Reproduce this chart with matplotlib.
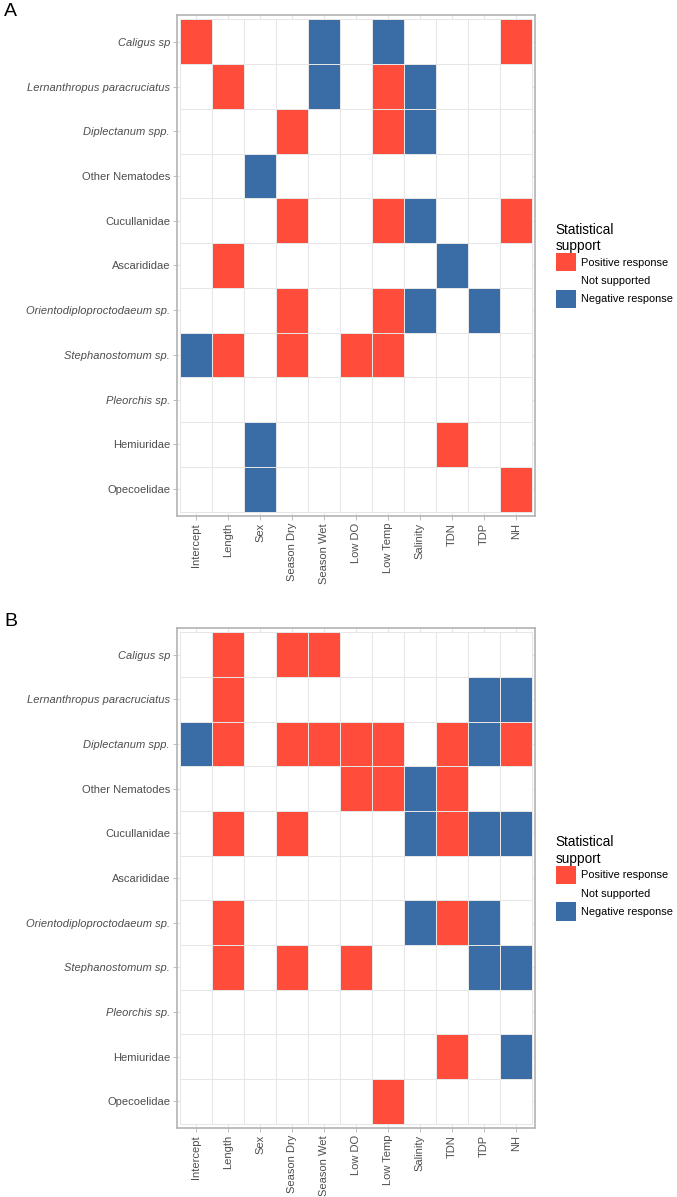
import numpy as np
import matplotlib
matplotlib.use("Agg")
import matplotlib.pyplot as plt
from matplotlib.colors import ListedColormap, BoundaryNorm
from matplotlib.patches import Patch

plt.rcParams['font.family'] = ['Liberation Sans', 'DejaVu Sans']

predicteurs = ["Intercept", "Length", "Sex", "Season Dry", "Season Wet", "Low DO",
               "Low Temp", "Salinity", "TDN", "TDP", "NH"]
parasites = ["Caligus sp", "Lernanthropus paracruciatus", "Diplectanum spp.",
             "Other Nematodes", "Cucullanidae", "Ascarididae",
             "Orientodiploproctodaeum sp.", "Stephanostomum sp.", "Pleorchis sp.",
             "Hemiuridae", "Opecoelidae"]
italiques = [True, True, True, False, False, False, True, True, True, False, False]

# 1 = positive, 0 = non supporte, -1 = negative
support_A = [
    [1, 0, 0, 0, -1, 0, -1, 0, 0, 0, 1],
    [0, 1, 0, 0, -1, 0, 1, -1, 0, 0, 0],
    [0, 0, 0, 1, 0, 0, 1, -1, 0, 0, 0],
    [0, 0, -1, 0, 0, 0, 0, 0, 0, 0, 0],
    [0, 0, 0, 1, 0, 0, 1, -1, 0, 0, 1],
    [0, 1, 0, 0, 0, 0, 0, 0, -1, 0, 0],
    [0, 0, 0, 1, 0, 0, 1, -1, 0, -1, 0],
    [-1, 1, 0, 1, 0, 1, 1, 0, 0, 0, 0],
    [0, 0, 0, 0, 0, 0, 0, 0, 0, 0, 0],
    [0, 0, -1, 0, 0, 0, 0, 0, 1, 0, 0],
    [0, 0, -1, 0, 0, 0, 0, 0, 0, 0, 1],
]
support_B = [
    [0, 1, 0, 1, 1, 0, 0, 0, 0, 0, 0],
    [0, 1, 0, 0, 0, 0, 0, 0, 0, -1, -1],
    [-1, 1, 0, 1, 1, 1, 1, 0, 1, -1, 1],
    [0, 0, 0, 0, 0, 1, 1, -1, 1, 0, 0],
    [0, 1, 0, 1, 0, 0, 0, -1, 1, -1, -1],
    [0, 0, 0, 0, 0, 0, 0, 0, 0, 0, 0],
    [0, 1, 0, 0, 0, 0, 0, -1, 1, -1, 0],
    [0, 1, 0, 1, 0, 1, 0, 0, 0, -1, -1],
    [0, 0, 0, 0, 0, 0, 0, 0, 0, 0, 0],
    [0, 0, 0, 0, 0, 0, 0, 0, 1, 0, -1],
    [0, 0, 0, 0, 0, 0, 1, 0, 0, 0, 0],
]
noms_legende = ["Positive response", "Not supported", "Negative response"]

ROUGE = "#FF4C3B"
BLEU = "#3A6DA5"
GRIS_BORD = "#B3B3B3"
GRIS_GRILLE = "#E6E6E6"


def tracer_panneau(ax, donnees, lettre, y_lettre, fig):
    mat = np.array(donnees)
    cmap = ListedColormap([BLEU, "white", ROUGE])
    norm = BoundaryNorm([-1.5, -0.5, 0.5, 1.5], cmap.N)
    bords_x = np.arange(len(predicteurs) + 1) - 0.5
    bords_y = np.arange(len(parasites) + 1) - 0.5
    ax.pcolormesh(bords_x, bords_y, mat, cmap=cmap, norm=norm,
                  edgecolors=GRIS_GRILLE, linewidth=0.6, zorder=2)
    ax.set_xlim(-0.6, len(predicteurs) - 0.4)
    ax.set_ylim(len(parasites) - 0.4, -0.6)
    ax.set_xticks(range(len(predicteurs)))
    ax.set_yticks(range(len(parasites)))
    ax.set_xticklabels(predicteurs, rotation=90, fontsize=8, color="#4D4D4D")
    ax.set_yticklabels(parasites, fontsize=8, color="#4D4D4D")
    for lab, it in zip(ax.get_yticklabels(), italiques):
        if it:
            lab.set_style("italic")
    ax.grid(True, color=GRIS_GRILLE, linewidth=0.8, zorder=0)
    ax.set_axisbelow(True)
    ax.tick_params(length=3, width=0.6, color=GRIS_BORD, pad=2)
    for s in ax.spines.values():
        s.set_color(GRIS_BORD)
        s.set_linewidth(1.2)

    handles = [Patch(facecolor=ROUGE, edgecolor="none"),
               Patch(facecolor="white", edgecolor="none"),
               Patch(facecolor=BLEU, edgecolor="none")]
    leg = ax.legend(handles, noms_legende, title="Statistical\nsupport",
                    loc="center left", bbox_to_anchor=(1.058, 0.5), frameon=False,
                    fontsize=7.9, title_fontsize=9.8, handlelength=1.9,
                    handleheight=2.2, labelspacing=0, handletextpad=0.45,
                    borderpad=0, borderaxespad=0)
    leg._legend_box.align = "left"

    fig.text(0.006, y_lettre, lettre, fontsize=14, ha="left", va="center")


def main():
    fig = plt.figure(figsize=(6.77, 11.97), dpi=100)
    ax_a = fig.add_axes([0.2615, 0.5689, 0.5285, 0.4186])
    ax_b = fig.add_axes([0.2615, 0.0576, 0.5285, 0.4178])
    tracer_panneau(ax_a, support_A, "A", 1 - 12 / 1197, fig)
    tracer_panneau(ax_b, support_B, "B", 1 - 621 / 1197, fig)
    fig.savefig("out.png", dpi=100, facecolor="white")


if __name__ == "__main__":
    main()
